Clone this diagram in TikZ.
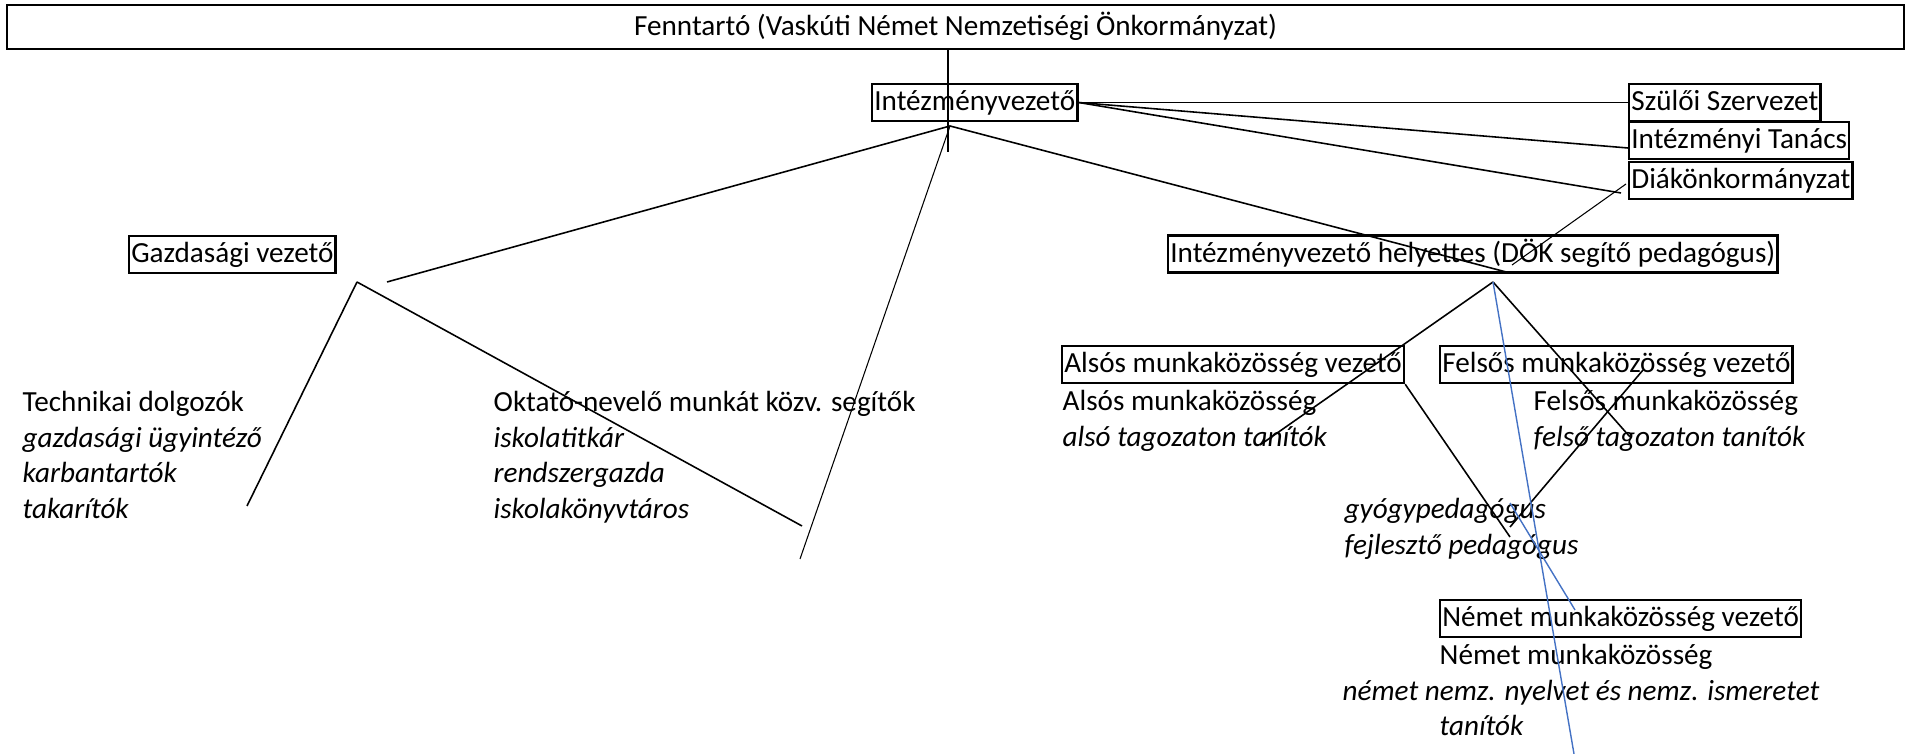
\documentclass[tikz,border=0pt]{standalone}
\usepackage{fontspec}
\setmainfont{Carlito}
\definecolor{linkblue}{HTML}{4472C4}
\newcommand{\linestack}[1]{\vtop{\halign{##\hfil\cr#1\crcr}}}

\begin{document}
\begin{tikzpicture}[
  x=0.1mm,
  y=-0.1mm,
  every node/.style={font=\fontsize{8.3pt}{10.1pt}\selectfont, inner sep=0pt},
  unitbox/.style={draw, line width=0.7pt, anchor=west, inner xsep=0.6pt,
                  inner ysep=0.45mm, text height=2.25mm, text depth=0.55mm},
  textblock/.style={anchor=base west},
  link/.style={line width=0.45pt},
  hairline/.style={line width=0.3pt},
  bluelink/.style={linkblue, line width=0.4pt}
]
  \useasboundingbox (0,0) rectangle (1910,754);

  % ---- boxes ----
  \node[unitbox, anchor=center, minimum width=189.7mm, minimum height=4.4mm]
    (fenntarto) at (955.5,27) {Fenntartó (Vaskúti Német Nemzetiségi Önkormányzat)};
  \node[unitbox] (vezeto)    at (871,102.5)  {Intézményvezető};
  \node[unitbox] (szuloi)    at (1628,102.5) {Szülői Szervezet};
  \node[unitbox] (tanacs)    at (1628,140.5) {Intézményi Tanács};
  \node[unitbox] (dok)       at (1628,180.5) {Diákönkormányzat};
  \node[unitbox] (gazd)      at (128,254.5)  {Gazdasági vezető};
  \node[unitbox] (helyettes) at (1167,254)   {Intézményvezető helyettes (DÖK segítő pedagógus)};
  \node[unitbox] (also)      at (1061,364.5) {Alsós munkaközösség vezető};
  \node[unitbox] (felso)     at (1439,364.5) {Felsős munkaközösség vezető};
  \node[unitbox] (nemet)     at (1439,618.5) {Német munkaközösség vezető};

  % ---- staff lists ----
  \node[textblock] (tech) at (22,412)
    {\linestack{Technikai dolgozók\cr \textit{gazdasági ügyintéző}\cr \textit{karbantartók}\cr \textit{takarítók}}};
  \node[textblock] (oktato) at (493,412)
    {\linestack{Oktató-nevelő munkát közv. segítők\cr \textit{iskolatitkár}\cr \textit{rendszergazda}\cr \textit{iskolakönyvtáros}}};
  \node[textblock] (alsotext) at (1062,411)
    {\linestack{Alsós munkaközösség\cr \textit{alsó tagozaton tanítók}}};
  \node[textblock] (felsotext) at (1533,411)
    {\linestack{Felsős munkaközösség\cr \textit{felső tagozaton tanítók}}};
  \node[textblock] (gyogy) at (1344,519)
    {\linestack{\textit{gyógypedagógus}\cr \textit{fejlesztő pedagógus}}};
  \node[textblock] (nemettext) at (1342,665)
    {\linestack{\hspace*{9.7mm}Német munkaközösség\cr \textit{német nemz. nyelvet és nemz. ismeretet}\cr \hspace*{9.7mm}\textit{tanítók}}};

  % ---- loose ends ----
  \coordinate (vend)     at (948,152);
  \coordinate (vezapex)  at (950,126);
  \coordinate (tanacsin) at (1628,148);
  \coordinate (dokin)    at (1621,193);
  \coordinate (dokout)   at (1626,184);
  \coordinate (dokend)   at (1512,265);
  \coordinate (gazdjoin) at (387,282);
  \coordinate (oktend)   at (800,559);
  \coordinate (hjoin)    at (1510,273);
  \coordinate (gazdapex) at (357,282);
  \coordinate (techend)  at (247,506);
  \coordinate (oktend2)  at (802,526);
  \coordinate (hapex)    at (1493,282);
  \coordinate (alsoend)  at (1260,445);
  \coordinate (felsoend) at (1630,437);
  \coordinate (gyogyA)   at (1510,537);
  \coordinate (felsoin)  at (1643,370);
  \coordinate (gyogyB)   at (1510,527);
  \coordinate (blueend)  at (1574,754);
  \coordinate (bluestart) at (1510,503);
  \coordinate (nemetin)  at (1575,610);

  % ---- top of the tree ----
  \draw[hairline] (fenntarto.south -| vend) -- (vend);
  \draw[link] (vezeto.east) -- (szuloi.west);
  \draw[link] (vezeto.east) -- (tanacsin);
  \draw[link] (vezeto.east) -- (dokin);
  \draw[hairline] (dokout) -- (dokend);
  \draw[link] (vezapex) -- (gazdjoin);
  \draw[hairline] (vezapex) -- (oktend);
  \draw[link] (vezapex) -- (hjoin);

  % ---- economic side ----
  \draw[link] (gazdapex) -- (techend);
  \draw[link] (gazdapex) -- (oktend2);

  % ---- deputy side ----
  \draw[link] (hapex) -- (alsoend);
  \draw[link] (hapex) -- (felsoend);
  \draw[link] (also.south east) -- (gyogyA);
  \draw[link] (felsoin) -- (gyogyB);
  \draw[bluelink] (hapex) -- (blueend);
  \draw[bluelink] (bluestart) -- (nemetin);
\end{tikzpicture}
\end{document}
